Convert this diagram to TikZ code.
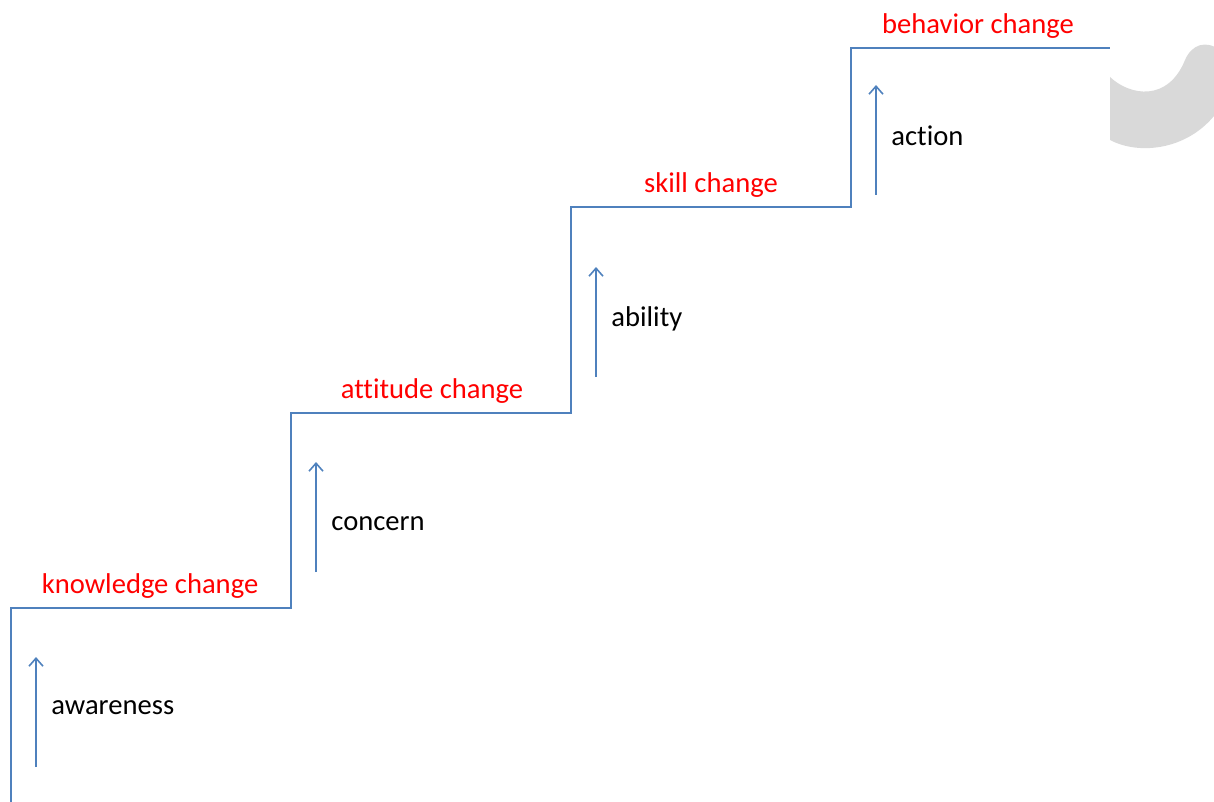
\documentclass[tikz,border=0pt]{standalone}
\usepackage{fontspec}
\setmainfont[Ligatures={NoCommon}]{Carlito}
\usetikzlibrary{arrows.meta}
\definecolor{stairblue}{HTML}{4F81BD}
\definecolor{shadegray}{HTML}{D9D9D9}
\begin{document}
\begin{tikzpicture}[x=0.5pt,y=-0.5pt,font=\fontsize{14.3}{17}\selectfont,line join=miter,
	stair/.style={color=stairblue,line width=1pt},
	rise/.style={color=stairblue,line width=0.8pt,-{Straight Barb[length=4pt,width=7pt]}},
	stage/.style={anchor=west,inner sep=0pt,text=black},
	change/.style={inner sep=0pt,text=red}]
	\useasboundingbox (0,0) rectangle (1214,802);
	%\draw[color=gray!50,dashed] (0,0) grid[step=100] (1214,802);
	\begin{scope}
		\clip (0,0) rectangle (1214,802);
		\fill[shadegray] (1110,77) .. controls (1130,96) and (1168,102) .. (1185,60) .. controls (1192,44) and (1206,40) .. (1220,50) -- (1220,108) .. controls (1192,150) and (1140,156) .. (1110,140) -- cycle;
	\end{scope}
	% staircase corners
	\coordinate (s0) at (11,802);
	\coordinate (s1) at (11,608);
	\coordinate (s2) at (291,608);
	\coordinate (s3) at (291,413);
	\coordinate (s4) at (571,413);
	\coordinate (s5) at (571,207);
	\coordinate (s6) at (851,207);
	\coordinate (s7) at (851,48);
	\coordinate (s8) at (1110,48);
	\draw[stair] (s0)--(s1)--(s2)--(s3)--(s4)--(s5)--(s6)--(s7)--(s8);
	% arrows and stage labels
	\foreach \n/\x/\y/\ty/\t in {a/36/767/708/awareness,b/316/572/524/concern,c/596/377/319/ability,d/876/195/136/action}{
		\coordinate (\n lo) at (\x,\y);
		\coordinate (\n hi) at (\x,\y-110);
		\draw[rise] (\n lo)--(\n hi);
		\node[stage] (\n txt) at (\x+15,\ty) {\t};
	}
	% change labels
	\node[change] (know) at (150,586) {knowledge change};
	\node[change] (att) at (432,391) {attitude change};
	\node[change] (skill) at (711,185) {skill change};
	\node[change] (beh) at (978,26) {behavior change};
\end{tikzpicture}
\end{document}
